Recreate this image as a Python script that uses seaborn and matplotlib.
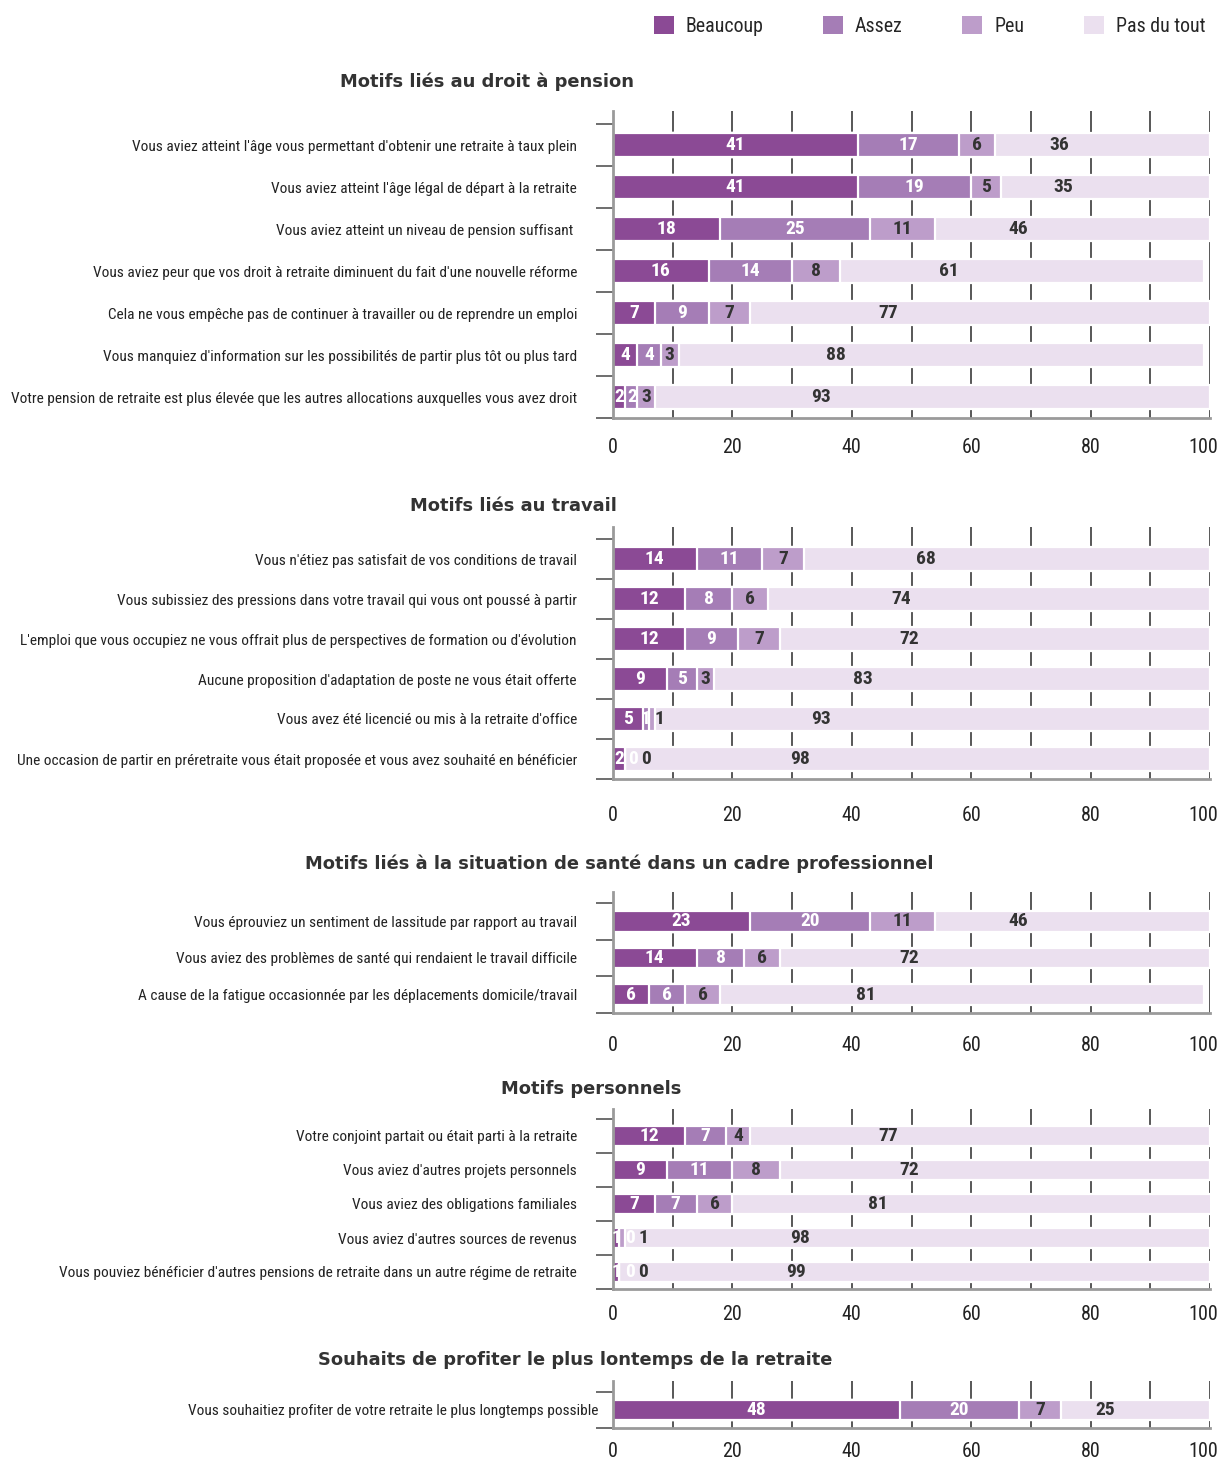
import numpy as np
import pandas as pd
import matplotlib
matplotlib.use("Agg")
import matplotlib.pyplot as plt
import seaborn as sns
from matplotlib import font_manager as fm
from matplotlib.ticker import FixedLocator
from matplotlib.transforms import ScaledTranslation
from matplotlib.patches import Patch

# ---------------- data ----------------
series = ["Beaucoup", "Assez", "Peu", "Pas du tout"]
colors = ["#8B4A95", "#A57DB6", "#BD9DCA", "#EBE0EF"]

titles = [
    "Motifs liés au droit à pension",
    "Motifs liés au travail",
    "Motifs liés à la situation de santé dans un cadre professionnel",
    "Motifs personnels",
    "Souhaits de profiter le plus lontemps de la retraite",
]

p1_labels = [
    "Vous aviez atteint l'âge vous permettant d'obtenir une retraite à taux plein",
    "Vous aviez atteint l'âge légal de départ à la retraite",
    "Vous aviez atteint un niveau de pension suffisant ",
    "Vous aviez peur que vos droit à retraite diminuent du fait d'une nouvelle réforme",
    "Cela ne vous empêche pas de continuer à travailler ou de reprendre un emploi",
    "Vous manquiez d'information sur les possibilités de partir plus tôt ou plus tard",
    "Votre pension de retraite est plus élevée que les autres allocations auxquelles vous avez droit",
]
p1_beaucoup = [41, 41, 18, 16, 7, 4, 2]
p1_assez = [17, 19, 25, 14, 9, 4, 2]
p1_peu = [6, 5, 11, 8, 7, 3, 3]
p1_pas = [36, 35, 46, 61, 77, 88, 93]

p2_labels = [
    "Vous n'étiez pas satisfait de vos conditions de travail",
    "Vous subissiez des pressions dans votre travail qui vous ont poussé à partir",
    "L'emploi que vous occupiez ne vous offrait plus de perspectives de formation ou d'évolution",
    "Aucune proposition d'adaptation de poste ne vous était offerte",
    "Vous avez été licencié ou mis à la retraite d'office",
    "Une occasion de partir en préretraite vous était proposée et vous avez souhaité en bénéficier",
]
p2_beaucoup = [14, 12, 12, 9, 5, 2]
p2_assez = [11, 8, 9, 5, 1, 0]
p2_peu = [7, 6, 7, 3, 1, 0]
p2_pas = [68, 74, 72, 83, 93, 98]

p3_labels = [
    "Vous éprouviez un sentiment de lassitude par rapport au travail",
    "Vous aviez des problèmes de santé qui rendaient le travail difficile",
    "A cause de la fatigue occasionnée par les déplacements domicile/travail",
]
p3_beaucoup = [23, 14, 6]
p3_assez = [20, 8, 6]
p3_peu = [11, 6, 6]
p3_pas = [46, 72, 81]

p4_labels = [
    "Votre conjoint partait ou était parti à la retraite",
    "Vous aviez d'autres projets personnels",
    "Vous aviez des obligations familiales",
    "Vous aviez d'autres sources de revenus",
    "Vous pouviez bénéficier d'autres pensions de retraite dans un autre régime de retraite",
]
p4_beaucoup = [12, 9, 7, 1, 1]
p4_assez = [7, 11, 7, 0, 0]
p4_peu = [4, 8, 6, 1, 0]
p4_pas = [77, 72, 81, 98, 99]

p5_labels = ["Vous souhaitiez profiter de votre retraite le plus longtemps possible"]
p5_beaucoup = [48]
p5_assez = [20]
p5_peu = [7]
p5_pas = [25]

x_ticks = [0, 20, 40, 60, 80, 100]

panels = [
    (p1_labels, [p1_beaucoup, p1_assez, p1_peu, p1_pas]),
    (p2_labels, [p2_beaucoup, p2_assez, p2_peu, p2_pas]),
    (p3_labels, [p3_beaucoup, p3_assez, p3_peu, p3_pas]),
    (p4_labels, [p4_beaucoup, p4_assez, p4_peu, p4_pas]),
    (p5_labels, [p5_beaucoup, p5_assez, p5_peu, p5_pas]),
]

# ---------------- fonts ----------------
sns.set_style("white")
entries = fm.fontManager.ttflist
names = {f.name for f in entries}
NSTRETCH = "normal"
SCALE = 1.0
narrow_pref = ["Liberation Sans Narrow", "Arial Narrow", "Roboto Condensed",
               "Open Sans Condensed", "Noto Sans Condensed", "DejaVu Sans Condensed"]
chosen = None
for nm in narrow_pref:
    if nm in names:
        chosen = nm
        break
if chosen is None:
    for f in entries:
        if ("Narrow" in f.name or "Condensed" in f.name) and "Mono" not in f.name \
                and "Serif" not in f.name:
            chosen = f.name
            break
if chosen is not None:
    NFAM = [chosen, "DejaVu Sans"]
    if "DejaVu" in chosen:
        SCALE = 0.83
else:
    p = fm.findfont(fm.FontProperties(family="DejaVu Sans", stretch="condensed"),
                    fallback_to_default=True)
    NFAM = ["DejaVu Sans"]
    if "Condensed" in p:
        NSTRETCH = "condensed"
        SCALE = 0.83
    else:
        SCALE = 0.75
plt.rcParams["font.family"] = NFAM
plt.rcParams["font.stretch"] = NSTRETCH

FS_Y = 11.1 * SCALE
FS_BAR = 14.0 * SCALE
FS_X = 14.5 * SCALE
FS_LEG = 14.3 * SCALE

# ---------------- layout (pixels) ----------------
W, H = 1221, 1458
AX_L, AX_R = 613, 1210
bounds = [(124, 418), (539, 779), (903, 1013), (1119, 1289), (1392, 1428)]
bar_w = [0.55, 0.6, 0.57, 0.56, 0.55]
title_xy = [(487, 82), (513, 506), (619, 864), (591, 1089), (575, 1360)]
ylab_pad_px = [36, 36, 36, 36, 15]
xlab_pad_pt = [1.5, 6.5, 3.5, -1.5, -3]
TOP_EXTRA = 0.3
PX2PT = 72 / 100

fig = plt.figure(figsize=(W / 100, H / 100), dpi=100)

for pi, (labels, vals) in enumerate(panels):
    n = len(labels)
    vals = np.array(vals, dtype=float)
    cum = np.cumsum(vals, axis=0)
    starts = cum - vals
    b0, b1 = bounds[pi]
    row = (b1 - b0) / n
    top_px = b0 - TOP_EXTRA * row
    ax = fig.add_axes([AX_L / W, 1 - b1 / H, (AX_R - AX_L) / W, (b1 - top_px) / H])

    for k in reversed(range(4)):
        df = pd.DataFrame({"cat": labels, "v": cum[k]})
        sns.barplot(data=df, x="v", y="cat", orient="h", order=labels,
                    color=colors[k], saturation=1, width=bar_w[pi],
                    edgecolor="white", linewidth=1.6, errorbar=None, ax=ax)

    # value labels
    gap = 2.3
    for i in range(n):
        prev = -1e9
        for k in range(4):
            v = vals[k, i]
            if k < 3:
                x = starts[k, i] + v / 2
            else:
                x = starts[k, i] + 0.3 * v
            x = max(x, prev + gap)
            prev = x
            ax.text(x, i, f"{int(v)}", ha="center", va="center",
                    color="white" if k < 2 else "#333333",
                    fontsize=FS_BAR, fontweight="bold", family=NFAM,
                    fontstretch=NSTRETCH, zorder=5)

    ax.set_xlim(0, 100)
    ax.set_ylim(n - 0.5, -0.5 - TOP_EXTRA)
    ax.set_xlabel("")
    ax.set_ylabel("")

    grid_ticks = list(range(0, 101, 10))
    ax.set_xticks(grid_ticks, labels=[str(t) if t in x_ticks else "" for t in grid_ticks])
    ax.grid(axis="x", color="#4a4a4a", linewidth=1.3)
    ax.grid(axis="y", visible=False)
    ax.set_axisbelow(True)
    ax.tick_params(axis="x", which="major", length=13, width=1.3, color="#4a4a4a",
                   pad=xlab_pad_pt[pi], labelsize=FS_X, labelcolor="#222222")

    ax.yaxis.set_major_locator(FixedLocator(list(range(n))))
    ax.set_yticklabels(labels)
    ax.yaxis.set_minor_locator(FixedLocator(list(np.arange(-0.5, n, 1.0))))
    ax.tick_params(axis="y", which="major", length=0,
                   pad=ylab_pad_px[pi] * PX2PT, labelsize=FS_Y, labelcolor="#222222")
    ax.tick_params(axis="y", which="minor", length=17 * PX2PT, width=1.2,
                   color="#555555", left=True)

    # nudge the "100" label left so it stays inside the figure
    last = ax.xaxis.get_major_ticks()[-1].label1
    last.set_transform(last.get_transform() + ScaledTranslation(-7 / 100, 0, fig.dpi_scale_trans))

    for s in ["top", "right"]:
        ax.spines[s].set_visible(False)
    for s in ["left", "bottom"]:
        ax.spines[s].set_visible(True)
        ax.spines[s].set_color("#9a9a9a")
        ax.spines[s].set_linewidth(2)

    tx, ty = title_xy[pi]
    fig.text(tx / W, 1 - ty / H, titles[pi], ha="center", va="center",
             fontsize=12.9, fontweight="bold", color="#333333",
             family=["DejaVu Sans"], fontstretch="normal")

handles = [Patch(facecolor=c, edgecolor="none", label=s) for c, s in zip(colors, series)]
fig.legend(handles=handles, loc="center right", ncol=4,
           bbox_to_anchor=(1213 / W, 1 - 26 / H), frameon=False,
           prop=fm.FontProperties(family=NFAM, stretch=NSTRETCH, size=FS_LEG),
           handlelength=1.0, handleheight=1.0,
           handletextpad=0.6, columnspacing=3.0, borderaxespad=0)

fig.savefig("out.png", dpi=100)
